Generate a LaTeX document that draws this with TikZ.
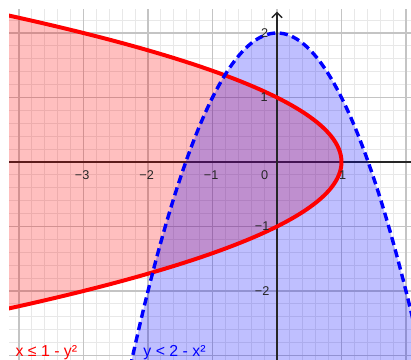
\documentclass[tikz,border=0pt]{standalone}
\usepackage{fontspec}
\setmainfont{Liberation Sans}
\usetikzlibrary{arrows.meta}
\definecolor{minorgrid}{HTML}{E8E8E8}
\definecolor{majorgrid}{HTML}{C4C4C4}
\definecolor{axiscol}{HTML}{262626}
\definecolor{curvered}{HTML}{FF0000}
\definecolor{curveblue}{HTML}{0000FF}
\tikzset{
  minorline/.style={draw=minorgrid, line width=0.4pt},
  majorline/.style={draw=majorgrid, line width=0.7pt},
  axisline/.style={draw=axiscol, line width=0.6pt},
  ticklab/.style={font=\fontsize{5.6}{6}\selectfont, text=axiscol, inner sep=0pt},
  redfill/.style={fill=curvered, fill opacity=0.25},
  bluefill/.style={fill=curveblue, fill opacity=0.25},
  redcurve/.style={draw=curvered, line width=1.75pt},
  bluecurve/.style={draw=curveblue, line width=1.5pt, dash pattern=on 3.6pt off 2pt},
  legendlab/.style={font=\fontsize{7}{8}\selectfont, inner sep=0pt, anchor=base west}
}
\begin{document}
\begin{tikzpicture}[x=1cm,y=1cm]
\useasboundingbox (-4.295,-3.07) rectangle (2.078,2.512);
\fill[white] (-4.295,-3.07) rectangle (2.078,2.512);
\begin{scope}
\clip (-4.155,-3.07) rectangle (2.078,2.357);
% grid
\draw[minorline] (-4.2,-3.2) grid[step=0.2] (2.2,2.4);
\draw[majorline] (-5,-4) grid[step=1] (3,3);
% axes
\draw[axisline] (-4.2,0) -- (2.2,0);
% fills
\fill[redfill] plot[domain=-2.7:2.7, samples=120] ({1-\x*\x},\x) -- (-5,2.7) -- (-5,-2.7) -- cycle;
\fill[bluefill] plot[domain=-2.4:2.4, samples=120] (\x,{2-\x*\x}) -- (2.4,-3.3) -- (-2.4,-3.3) -- cycle;
\draw[axisline] (0,-3.2) -- (0,2.3);
% curves
\draw[redcurve] plot[domain=-2.7:2.7, samples=120] ({1-\x*\x},\x);
\draw[bluecurve] plot[domain=-2.4:2.4, samples=120] (\x,{2-\x*\x});
\end{scope}
% y-axis arrow
\coordinate (ybase) at (0,2.2);
\coordinate (ytip) at (0,2.33);
\draw[axisline, -{Straight Barb[length=2.2pt,width=4.5pt]}] (ybase) -- (ytip);
% tick labels
\node[ticklab] (xm3) at (-3.02,-0.21) {−3};
\node[ticklab] (xm2) at (-2.02,-0.21) {−2};
\node[ticklab] (xm1) at (-1.02,-0.21) {−1};
\node[ticklab] (x0) at (-0.19,-0.21) {0};
\node[ticklab] (x1) at (1.02,-0.21) {1};
\node[ticklab] (y2) at (-0.19,2.0) {2};
\node[ticklab] (y1) at (-0.2,1.0) {1};
\node[ticklab] (ym1) at (-0.23,-1.0) {−1};
\node[ticklab] (ym2) at (-0.23,-2.0) {−2};
% legend labels
\node[legendlab, text=curvered] (redlab) at (-4.06,-3.02) {x ≤ 1 - y²};
\node[legendlab, text=curveblue] (bluelab) at (-2.078,-3.02) {y < 2 - x²};
\end{tikzpicture}
\end{document}
